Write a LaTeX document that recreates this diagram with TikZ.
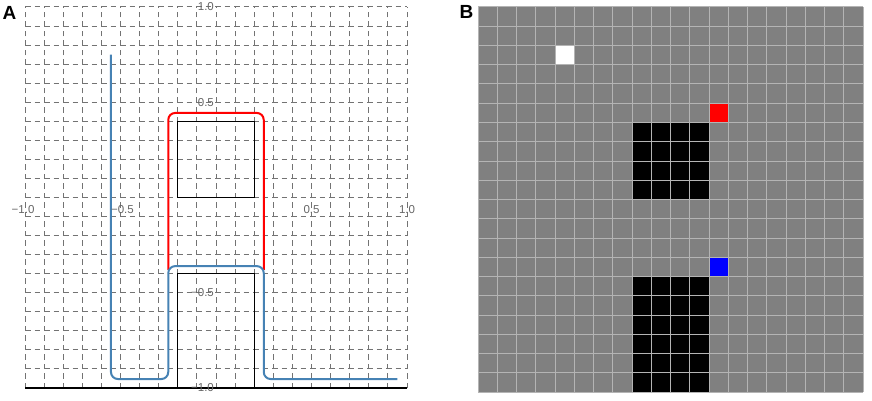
\documentclass[tikz,border=0pt]{standalone}
\usepackage{fontspec}
\setmainfont{Liberation Sans}
\definecolor{steel}{HTML}{4682B4}
\definecolor{cellgray}{HTML}{808080}
\definecolor{cellline}{HTML}{B4B4B4}
\begin{document}
\begin{tikzpicture}[x=1pt,y=-1pt,
  gridA/.style={draw=black!55, dash pattern=on 5.5pt off 4pt, line width=1pt},
  ticklab/.style={text=black!60, font=\fontsize{11.5}{11.5}\selectfont, inner sep=0pt},
  panellab/.style={font=\bfseries\fontsize{19}{19}\selectfont, inner sep=0pt},
  outline/.style={draw=black, line width=1.3pt},
  redcurve/.style={draw=red, line width=2pt, rounded corners=7pt},
  bluecurve/.style={draw=steel, line width=2pt, rounded corners=7pt},
  cellgrid/.style={draw=cellline, line width=1pt}]
\useasboundingbox (0,0) rectangle (872,401);
\node[panellab] (labA) at (9.5,13) {A};
\node[panellab] (labB) at (466.5,12) {B};
% ---------- panel A ----------
\begin{scope}[shift={(216,197.5)}, x=191pt, y=190.5pt]
  \foreach \i in {-10,...,10} {
    \draw[gridA] (\i/10,-1) -- (\i/10,1);
    \draw[gridA] (-1,\i/10) -- (1,\i/10);
  }
  \draw[outline] (-0.2,0) rectangle (0.2,0.4);
  \draw[outline] (-0.2,-1) rectangle (0.2,-0.4);
  \draw[outline] (-1,-1) -- (1,-1);
  \draw[redcurve] (-0.25,-0.38) -- (-0.25,0.444) -- (0.25,0.444) -- (0.25,-0.38);
  \draw[bluecurve] (-0.55,0.75) -- (-0.55,-0.953) -- (-0.25,-0.953) -- (-0.25,-0.36)
     -- (0.25,-0.36) -- (0.25,-0.953) -- (0.95,-0.953);
  % tick labels
  \node[ticklab, anchor=east] (ty1) at (-0.01,1) {1.0};
  \node[ticklab, anchor=east] (ty2) at (-0.01,0.5) {0.5};
  \node[ticklab, anchor=east] (ty3) at (-0.01,-0.5) {−0.5};
  \node[ticklab, anchor=east] (ty4) at (-0.01,-1) {−1.0};
  \node[ticklab] (tx1) at (-1.01,-0.063) {−1.0};
  \node[ticklab] (tx2) at (-0.49,-0.063) {−0.5};
  \node[ticklab] (tx3) at (0.5,-0.063) {0.5};
  \node[ticklab] (tx4) at (1,-0.063) {1.0};
\end{scope}
% ---------- panel B ----------
\begin{scope}[shift={(478,7)}, x=19.25pt, y=-19.25pt]
  \fill[cellgray] (0,0) rectangle (20,20);
  \fill[white] (4,2) rectangle (5,3);
  \fill[red] (12,5) rectangle (13,6);
  \fill[blue] (12,13) rectangle (13,14);
  \fill[black] (8,6) rectangle (12,10);
  \fill[black] (8,14) rectangle (12,20);
  \foreach \i in {0,...,20} {
    \draw[cellgrid] (\i,0) -- (\i,20);
    \draw[cellgrid] (0,\i) -- (20,\i);
  }
\end{scope}
\end{tikzpicture}
\end{document}
